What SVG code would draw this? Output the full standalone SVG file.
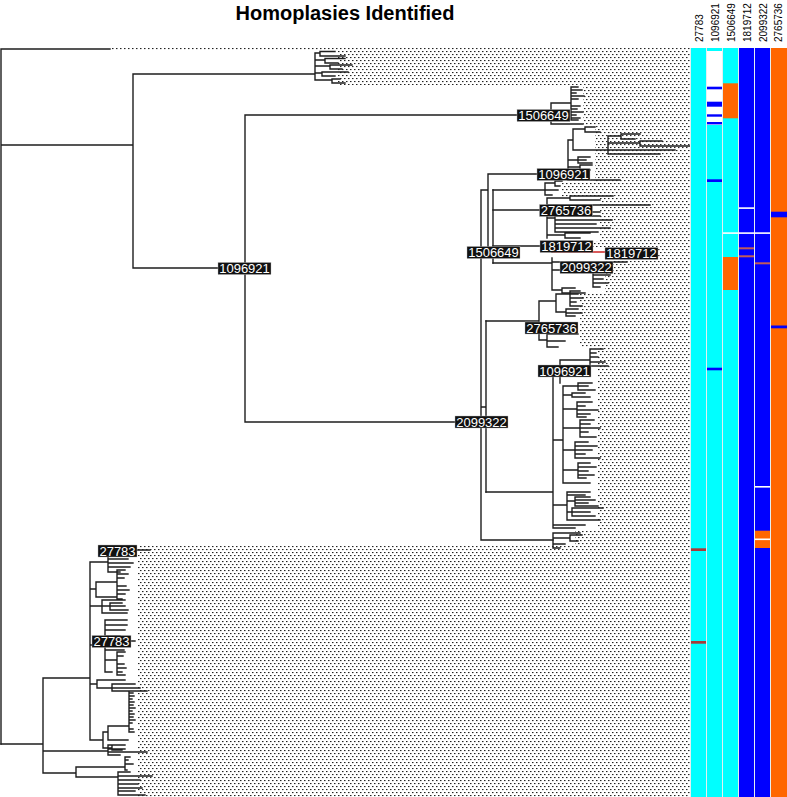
<svg xmlns="http://www.w3.org/2000/svg" width="787" height="797" viewBox="0 0 787 797">
<defs>
<pattern id="dots" width="4" height="6" patternUnits="userSpaceOnUse">
<rect x="0" y="0" width="1.5" height="1.1" fill="#222"/>
<rect x="2" y="3" width="1.5" height="1.1" fill="#222"/>
</pattern>
</defs>
<style>
.br{fill:none;stroke:#1e1e1e;stroke-width:1.4;stroke-linecap:square}
.red{fill:none;stroke:#cc2222;stroke-width:1.6}
.dt{fill:url(#dots)}
.lb rect{fill:#111;stroke:#bbb;stroke-width:0.4}
.lb text{fill:#fff;font-family:'Liberation Sans',Arial,sans-serif;font-size:13px;text-anchor:middle}
.hd{font-family:'Liberation Sans',Arial,sans-serif;font-size:10px;fill:#000}
.cy{fill:#00ffff}.bl{fill:#0000ff}.or{fill:#ff6600}.wh{fill:#ffffff}.rd{fill:#a83a3a}.rd2{fill:#c05a5a}
</style>
<rect width="787" height="797" fill="#fff"/>
<text x="345" y="20" font-family="'Liberation Sans',Arial,sans-serif" font-size="20" font-weight="bold" text-anchor="middle">Homoplasies Identified</text>

<g id="tip-dots">
<rect class="dt" x="110" y="48" width="580" height="2"/>
<rect class="dt" x="338" y="50" width="352" height="35"/>
<rect class="dt" x="583" y="86" width="107" height="40"/>
<rect class="dt" x="595" y="126" width="95" height="56"/>
<rect class="dt" x="562" y="182" width="128" height="15"/>
<rect class="dt" x="600" y="197" width="90" height="44"/>
<rect class="dt" x="593" y="241" width="97" height="6"/>
<rect class="dt" x="657" y="247" width="33" height="11"/>
<rect class="dt" x="605" y="258" width="85" height="35"/>
<rect class="dt" x="580" y="293" width="110" height="55"/>
<rect class="dt" x="598" y="348" width="92" height="182"/>
<rect class="dt" x="575" y="530" width="115" height="16"/>
<rect class="dt" x="138" y="546" width="552" height="251"/>
</g>

<g id="connectors">
<path class="br" d="M1,49 H110 M1,49 V744 M1,145 H133 M133,74 V268 M133,74 H315 M315,53 V80
M315,53 H320 M320,51.5 V56 M320,51.5 H335 M320,56 H345
M315,60 H325 M325,58.5 V63 M325,58.5 H345 M325,63 H338
M315,66 H330 M330,65 V69 M330,65 H352 M330,69 H342
M315,73 H322 M322,72 V76 M322,72 H348 M322,76 H335
M315,80 H332 M332,79 V83 M332,79 H340 M332,83 H345
M133,268 H245 M245,115 V422 M245,115 H551 M245,422 H481"/>
<path class="br" d="M551,103 V124 M551,103 H571 M551,124 H583 M571,87 V120
M571,87 H578 M571,90 H582 M571,93 H576 M571,96 H584 M571,99 H578 M571,106 H580 M571,109 H577 M571,112 H583 M571,115 H576 M571,118 H580 M571,120 H578"/>
<path class="br" d="M481,190 V540 M481,190 H488 M488,174 V252 M488,174 H568 M488,252 H493 M493,190 V263 M481,407 H486 M486,321 V492 M481,540 H553"/>
<path class="br" d="M568,140 V180 M568,140 H573 M573,129 V150 M573,129 H585 M585,127 V132 M585,127 H595 M585,132 H600
M573,150 H608 M608,136 V154 M608,136 H621 M621,134 V139 M621,134 H640 M621,139 H635
M608,143 H640 M640,141 V146 M640,141 H662 M640,146 H690 M608,150 H675 M608,154 H660
M568,160 H578 M578,157 V163 M578,157 H590 M578,160 H586 M578,163 H592
M568,167 H580 M580,165 V170 M580,165 H592 M580,170 H590
M568,180 H620"/>
<path class="br" d="M493,190 H545 M545,183 V195 M545,183 H555 M555,181 V186 M555,181 H562 M555,186 H560 M545,190 H558 M545,195 H552"/>
<path class="br" d="M493,210 H547 M547,198 V238 M547,198 H570 M570,196 V200 M570,196 H613 M570,200 H600 M547,205 H650 M547,212 H600
M547,218 H555 M555,216 V232 M555,216 H600 M555,220 H612 M555,224 H596 M555,228 H610 M555,232 H598
M547,235 H565 M565,233 V238 M565,233 H590 M565,238 H580"/>
<path class="br" d="M493,246 H552 M552,244 V252 M552,244 H590"/>
<path class="red" d="M552,252 H605"/>
<path class="br" d="M493,263 H552 M552,258 V290 M552,262 H627 M552,270 H593 M593,267 V287 M593,267 H600 M593,271 H605 M593,275 H610 M593,279 H603 M593,283 H608 M593,287 H600 M552,290 H562 M562,288 V293 M562,288 H575 M562,293 H585"/>
<path class="br" d="M486,321 H539 M539,301 V340 M539,301 H556 M556,294 V312 M556,294 H570 M570,291 V306 M570,291 H580 M570,294 H578 M570,298 H583 M570,302 H576 M570,306 H582 M556,312 H566 M566,309 V316 M566,309 H578 M566,313 H582 M566,316 H575 M539,340 H547 M547,334 V347 M547,334 H578 M547,341 H565 M547,347 H558"/>
<path class="br" d="M486,492 H553 M553,371 V528 M553,371 H560 M560,360 V383 M560,360 H590 M590,349 V366 M590,349 H603 M590,353 H596 M590,357 H598 M590,362 H605 M590,366 H608
M553,440 H563 M563,386 V483
M563,386 H578 M578,383 V390 M578,383 H592 M578,386 H588 M578,390 H595
M563,395 H572 M572,393 V397 M572,393 H585 M572,397 H590
M563,409 H577 M577,402 V417 M577,402 H592 M577,406 H585 M577,410 H598 M577,414 H590 M577,417 H586
M563,428 H580 M580,420 V437 M580,420 H594 M580,424 H590 M580,428 H600 M580,432 H588 M580,437 H596
M563,450 H575 M575,442 V458 M575,442 H588 M575,446 H597 M575,450 H592 M575,454 H585 M575,458 H600
M563,470 H578 M578,463 V478 M578,463 H590 M578,467 H596 M578,471 H588 M578,475 H594 M578,478 H586
M563,483 H590
M553,505 H567 M567,492 V520 M567,492 H590 M567,495 H585 M567,501 H575 M575,497 V506 M575,497 H590 M575,500 H595 M575,503 H588 M575,506 H598 M567,512 H572 M572,508 V516 M572,508 H603 M572,512 H590 M572,516 H595 M567,520 H600
M553,525 H585 M553,528 H575
M553,533 V548 M553,533 H580 M553,538 H570 M570,535 V541 M570,535 H582 M570,541 H578 M553,544 H565 M553,548 H560"/>
<path class="br" d="M1,744 H43 M43,678 V773 M43,678 H90 M90,562 V740
M90,562 H108 M108,550 V572 M108,550 H150 M108,555 H125 M108,559 H128 M108,563 H133 M108,567 H130 M108,572 H120
M90,589 H96 M96,582 V597 M96,582 H117 M96,597 H117 M117,570 V599 M117,570 H125 M117,574 H128 M117,578 H124 M117,586 H126 M117,590 H129 M117,594 H125 M117,599 H122
M90,606 H102 M102,600 V613 M102,600 H125 M102,606 H110 M110,603 V610 M110,603 H122 M110,606 H125 M110,610 H128 M102,613 H127
M90,645 H105 M105,620 V672 M105,620 H127 M105,625 H127 M105,630 H125 M105,636 H120 M105,641 H135 M105,646 H120 M105,650 H124 M105,660 H117 M117,652 V675 M117,652 H125 M117,656 H123 M117,664 H124 M117,668 H126 M117,672 H122 M117,675 H125 M105,672 H112
M90,684 H97 M97,680 V688 M97,680 H125 M97,688 H112 M112,684 V691 M112,684 H135 M112,688 H140 M112,691 H147
M90,740 H103 M103,732 V748 M103,732 H108 M108,726 V740 M108,726 H129 M129,692 V732 M108,740 H128 M103,748 H112 M112,745 V750 M112,745 H125 M112,750 H122
M129,693 H133 M129,696 H134 M129,699 H132 M129,702 H134 M129,705 H133 M129,708 H135 M129,711 H132 M129,714 H134 M129,717 H133 M129,720 H135 M129,723 H132 M129,729 H133 M129,732 H134
M43,751 H108 M108,745 V755 M108,745 H118 M108,749 H125 M108,752 H147 M108,755 H120
M43,773 H76 M76,767 V777 M76,767 H125 M125,757 V770 M125,757 H130 M125,760 H128 M125,764 H133 M125,770 H127 M76,777 H118 M118,772 V795 M118,772 H130 M118,776 H152 M118,780 H140 M118,784 H138 M118,788 H142 M118,791 H135 M118,795 H145"/>
</g>

<g id="label-1096921-a" class="lb"><rect x="218" y="262.5" width="53" height="12"/><text x="244.5" y="273.3">1096921</text></g>
<g id="label-1506649-a" class="lb"><rect x="517" y="109.5" width="53" height="12"/><text x="543.5" y="120.3">1506649</text></g>
<g id="label-1096921-b" class="lb"><rect x="537" y="168.5" width="53" height="12"/><text x="563.5" y="179.3">1096921</text></g>
<g id="label-2765736-a" class="lb"><rect x="539.5" y="204.5" width="53" height="12"/><text x="566" y="215.3">2765736</text></g>
<g id="label-1506649-b" class="lb"><rect x="467" y="246.5" width="53" height="12"/><text x="493.5" y="257.3">1506649</text></g>
<g id="label-1819712-a" class="lb"><rect x="540" y="240.5" width="53" height="12"/><text x="566.5" y="251.3">1819712</text></g>
<g id="label-1819712-b" class="lb"><rect x="605" y="247.5" width="53" height="12"/><text x="631.5" y="258.3">1819712</text></g>
<g id="label-2099322-a" class="lb"><rect x="560" y="261.5" width="53" height="12"/><text x="586.5" y="272.3">2099322</text></g>
<g id="label-2765736-b" class="lb"><rect x="525" y="322" width="53" height="12"/><text x="551.5" y="332.8">2765736</text></g>
<g id="label-1096921-c" class="lb"><rect x="538" y="365" width="53" height="12"/><text x="564.5" y="375.8">1096921</text></g>
<g id="label-2099322-b" class="lb"><rect x="455" y="416" width="53" height="12"/><text x="481.5" y="426.8">2099322</text></g>
<g id="label-27783-a" class="lb"><rect x="98" y="545" width="39" height="12"/><text x="117.5" y="555.8">27783</text></g>
<g id="label-27783-b" class="lb"><rect x="92" y="635.5" width="39" height="12"/><text x="111.5" y="646.3">27783</text></g>

<g id="heatmap">
<rect x="690" y="48" width="97" height="749" fill="#e4eef0"/>
<rect class="cy" x="691" y="48" width="15" height="749"/>
<rect class="cy" x="707" y="48" width="15" height="749"/>
<rect class="cy" x="723" y="48" width="15" height="749"/>
<rect class="bl" x="739" y="48" width="15" height="749"/>
<rect class="bl" x="755" y="48" width="15" height="749"/>
<rect class="or" x="771" y="48" width="16" height="749"/>
<rect class="wh" x="707" y="51" width="15" height="74"/>
<rect class="bl" x="707" y="86.7" width="15" height="2.6"/>
<rect class="bl" x="707" y="101.7" width="15" height="5"/>
<rect class="bl" x="707" y="114.3" width="15" height="2.4"/>
<rect class="bl" x="707" y="122" width="15" height="2.4"/>
<rect class="bl" x="707" y="179.3" width="15" height="2.7"/>
<rect class="bl" x="707" y="367.7" width="15" height="2.6"/>
<rect class="or" x="723" y="83.3" width="15" height="35"/>
<rect class="or" x="723" y="257" width="15" height="33"/>
<rect class="wh" x="723" y="232.3" width="47" height="1.6"/>
<rect class="wh" x="739" y="207.3" width="15" height="1.6"/>
<rect class="rd2" x="739" y="247.3" width="15" height="2"/>
<rect class="rd2" x="739" y="255.3" width="15" height="2"/>
<rect class="rd2" x="755" y="262.3" width="15" height="2"/>
<rect class="wh" x="755" y="486" width="15" height="1.6"/>
<rect class="or" x="755" y="530.7" width="15" height="17.3"/>
<rect class="wh" x="755" y="538.5" width="15" height="1.6"/>
<rect class="bl" x="771" y="211.7" width="16" height="5.6"/>
<rect class="bl" x="771" y="325.5" width="16" height="2.8"/>
<rect class="rd" x="691" y="548.3" width="15" height="2.7"/>
<rect class="rd" x="691" y="641" width="15" height="2.7"/>
</g>

<g id="column-headers">
<text class="hd" transform="translate(703.3,42) rotate(-90)">27783</text>
<text class="hd" transform="translate(719.3,42) rotate(-90)">1096921</text>
<text class="hd" transform="translate(735,42) rotate(-90)">1506649</text>
<text class="hd" transform="translate(750.7,42) rotate(-90)">1819712</text>
<text class="hd" transform="translate(766.7,42) rotate(-90)">2099322</text>
<text class="hd" transform="translate(782.3,42) rotate(-90)">2765736</text>
</g>
</svg>
